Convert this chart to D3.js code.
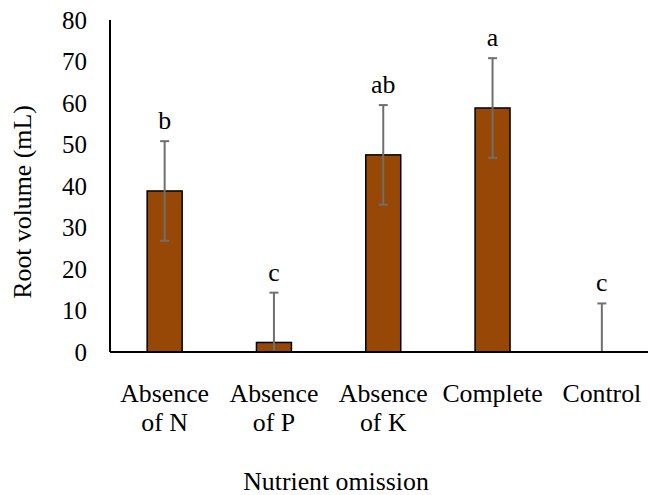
<!DOCTYPE html>
<html>
<head>
<meta charset="utf-8">
<script src="https://cdn.jsdelivr.net/npm/d3@7"></script>
<style>
  body { margin: 0; background: #fff; }
  text { font-family: "Liberation Serif", "Times New Roman", serif; fill: #000; }
</style>
</head>
<body>
<script>
// data
const categories = [["Absence", "of N"], ["Absence", "of P"], ["Absence", "of K"], ["Complete"], ["Control"]];
const rootVolume = [38.8, 2.3, 47.5, 58.8, 0];
const errorVals = [12, 12, 12, 12, 11.7];
const letters = ["b", "c", "ab", "a", "c"];
const yTicks = [0, 10, 20, 30, 40, 50, 60, 70, 80];

const canvWidth = 648, canvHeight = 495;
const svg = d3.select("body").append("svg")
  .attr("width", canvWidth)
  .attr("height", canvHeight);

// plot area (category axis runs a bit past the right edge, like the cropped original)
const plotLeft = 110, plotRight = 656.5, plotTop = 20, plotBottom = 352;
const fontSize = 25, titleSize = 25.8;

const x = d3.scaleBand()
  .domain(d3.range(categories.length))
  .range([plotLeft, plotRight])
  .paddingInner(0.68)
  .paddingOuter(0.34);

const y = d3.scaleLinear().domain([0, 80]).range([plotBottom, plotTop]);

// y axis: labels only, plus the axis line
const yAxis = svg.append("g")
  .attr("transform", "translate(" + plotLeft + ",0)")
  .call(d3.axisLeft(y).tickValues(yTicks).tickSize(0).tickPadding(23));
yAxis.select(".domain").remove();
yAxis.selectAll("text")
  .style("font-family", "Liberation Serif, serif")
  .style("font-size", fontSize + "px")
  .attr("fill", "#000");

svg.append("line")
  .attr("x1", plotLeft).attr("x2", plotLeft)
  .attr("y1", y(80)).attr("y2", y(0))
  .attr("stroke", "#000").attr("stroke-width", 2);

// bars
svg.append("g").selectAll("rect")
  .data(rootVolume)
  .join("rect")
  .attr("x", (d, i) => x(i))
  .attr("y", d => y(d))
  .attr("width", x.bandwidth())
  .attr("height", d => y(0) - y(d))
  .attr("fill", "#974706")
  .attr("stroke", "#000")
  .attr("stroke-width", 1.5);

// error bars (clipped at zero like the original)
const errG = svg.append("g");
const capHalf = 4.5;
rootVolume.forEach((v, i) => {
  const cx = x(i) + x.bandwidth() / 2;
  const hi = y(v + errorVals[i]);
  const lo = y(Math.max(0, v - errorVals[i]));
  errG.append("line").attr("x1", cx).attr("x2", cx).attr("y1", hi).attr("y2", lo)
    .attr("stroke", "#6f6f6f").attr("stroke-width", 2);
  errG.append("line").attr("x1", cx - capHalf).attr("x2", cx + capHalf).attr("y1", hi).attr("y2", hi)
    .attr("stroke", "#6f6f6f").attr("stroke-width", 2);
  if (v - errorVals[i] > 0) {
    errG.append("line").attr("x1", cx - capHalf).attr("x2", cx + capHalf).attr("y1", lo).attr("y2", lo)
      .attr("stroke", "#6f6f6f").attr("stroke-width", 2);
  }
  // significance letter
  svg.append("text")
    .attr("x", cx)
    .attr("y", hi - 12)
    .attr("text-anchor", "middle")
    .style("font-size", titleSize + "px")
    .text(letters[i]);
});

// x axis baseline
svg.append("line")
  .attr("x1", plotLeft).attr("x2", canvWidth)
  .attr("y1", y(0)).attr("y2", y(0))
  .attr("stroke", "#000").attr("stroke-width", 2);

// category labels
categories.forEach((lines, i) => {
  const t = svg.append("text")
    .attr("x", x(i) + x.bandwidth() / 2)
    .attr("y", 401.5)
    .attr("text-anchor", "middle")
    .style("font-size", titleSize + "px");
  lines.forEach((ln, j) => {
    t.append("tspan").attr("x", x(i) + x.bandwidth() / 2).attr("dy", j === 0 ? 0 : 29).text(ln);
  });
});

// axis titles
svg.append("text")
  .attr("x", 336).attr("y", 490)
  .attr("text-anchor", "middle")
  .style("font-size", titleSize + "px")
  .text("Nutrient omission");

svg.append("text")
  .attr("transform", "translate(31,202) rotate(-90)")
  .attr("text-anchor", "middle")
  .style("font-size", titleSize + "px")
  .text("Root volume (mL)");
</script>
</body>
</html>
